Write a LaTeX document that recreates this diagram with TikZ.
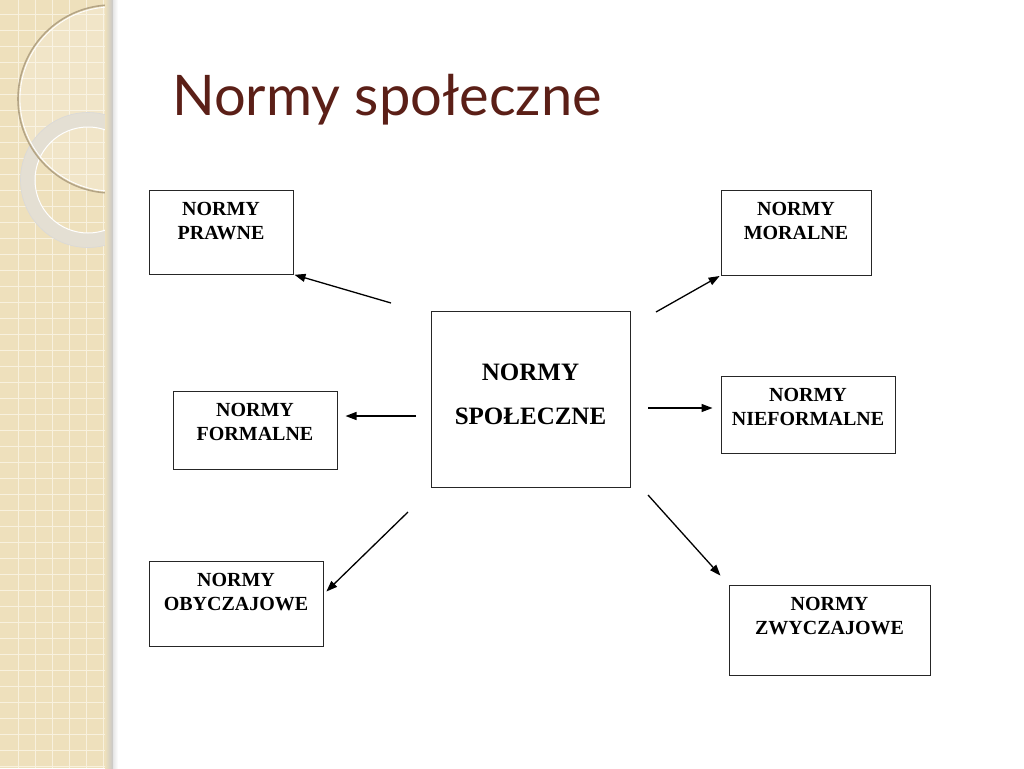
\documentclass[tikz,border=0pt]{standalone}
\usepackage{fontspec}
\setmainfont{Liberation Serif}
\newfontfamily\titlefont{Lato}
\usetikzlibrary{arrows.meta,positioning}
\definecolor{stripbeige}{HTML}{EEE0BC}
\definecolor{gridwhite}{HTML}{F8F1DE}
\definecolor{titlebrown}{HTML}{5B1F17}
\definecolor{ringgray}{HTML}{E4DFD3}
\definecolor{circleline}{HTML}{B5A585}
\tikzset{
  normbox/.style={draw=black!85, line width=1pt, rectangle, inner sep=0pt},
  boxtext/.style={anchor=north, align=center, inner sep=0pt, font=\bfseries\fontsize{20}{24}\selectfont},
  bigtext/.style={anchor=north, align=center, inner sep=0pt, font=\bfseries\fontsize{25}{44}\selectfont},
  normarrow/.style={-{Triangle[length=11pt,width=8pt]}, line width=1.3pt},
  gridline/.style={gridwhite, line width=0.8pt}
}
\begin{document}
\begin{tikzpicture}[x=1pt,y=-1pt]
      \useasboundingbox (0,0) rectangle (1024,768);
      \fill[white] (0,0) rectangle (1024,768);
      % side strip
      \fill[stripbeige] (0,0) rectangle (113,768);
      \foreach \gx in {18,35,...,113} \draw[gridline] (\gx,0) -- (\gx,768);
      \foreach \gy in {14,30,...,768} \draw[gridline] (0,\gy) -- (113,\gy);
      \begin{scope}
        \clip (0,0) rectangle (113,768);
        \fill[white, opacity=0.18] (112,99) circle[radius=94pt];
        \fill[ringgray, even odd rule] (88,180) circle[radius=67.5pt] (88,180) circle[radius=53pt];
        \draw[black!15, line width=0.6pt] (88,180) circle[radius=67.5pt];
        \draw[white, line width=1pt] (88,180) circle[radius=53pt];
        \draw[circleline, line width=1.6pt] (112,99) circle[radius=94pt];
        \draw[white, line width=0.8pt] (112,99) circle[radius=92pt];
      \end{scope}
      \shade[left color=stripbeige, right color=black!22] (105,0) rectangle (113,768);
      \shade[left color=black!10, right color=white] (113,0) rectangle (118,768);
      % title
      \node[anchor=base west, inner sep=0pt, text=titlebrown, font=\titlefont\fontsize{56}{60}\selectfont] (title) at (172,115) {Normy społeczne};
      % boxes
      \node[normbox, minimum width=199pt, minimum height=176pt, label={[bigtext, yshift=-53pt]north:NORMY\\SPOŁECZNE}] at (530.5,399) (spoleczne) {};
      \node[normbox, minimum width=144pt, minimum height=84pt, label={[boxtext, yshift=-13pt]north:NORMY\\PRAWNE}] at (221,232) (prawne) {};
      \node[normbox, minimum width=150pt, minimum height=85pt, label={[boxtext, yshift=-13pt]north:NORMY\\MORALNE}] at (796,232.5) (moralne) {};
      \node[normbox, minimum width=164pt, minimum height=78pt, label={[boxtext, yshift=-13pt]north:NORMY\\FORMALNE}] at (255,430) (formalne) {};
      \node[normbox, minimum width=174pt, minimum height=77pt, label={[boxtext, yshift=-13pt]north:NORMY\\NIEFORMALNE}] at (808,414.5) (nieformalne) {};
      \node[normbox, minimum width=174pt, minimum height=85pt, label={[boxtext, yshift=-13pt]north:NORMY\\OBYCZAJOWE}] at (236,603.5) (obyczajowe) {};
      \node[normbox, minimum width=201pt, minimum height=90pt, label={[boxtext, yshift=-13pt]north:NORMY\\ZWYCZAJOWE}] at (829.5,630) (zwyczajowe) {};
      % arrow starts
      \coordinate (p1) at (391,303);
      \coordinate (m1) at (656,312);
      \coordinate (f1) at (416,416);
      \coordinate (n1) at (648,408);
      \coordinate (o1) at (408,512);
      \coordinate (z1) at (648,495);
      \draw[normarrow, shorten >=1pt] (p1) -- (prawne.south east);
      \draw[normarrow, shorten >=1pt] (m1) -- (moralne.south west);
      \draw[normarrow, shorten >=8pt] (f1) -- (f1 -| formalne.east);
      \draw[normarrow, shorten >=8pt] (n1) -- (n1 -| nieformalne.west);
      \draw[normarrow, shorten >=4pt] (o1) -- (obyczajowe.6);
      \draw[normarrow, shorten >=12pt] (z1) -- (zwyczajowe.north west);
      \end{tikzpicture}
\end{document}
